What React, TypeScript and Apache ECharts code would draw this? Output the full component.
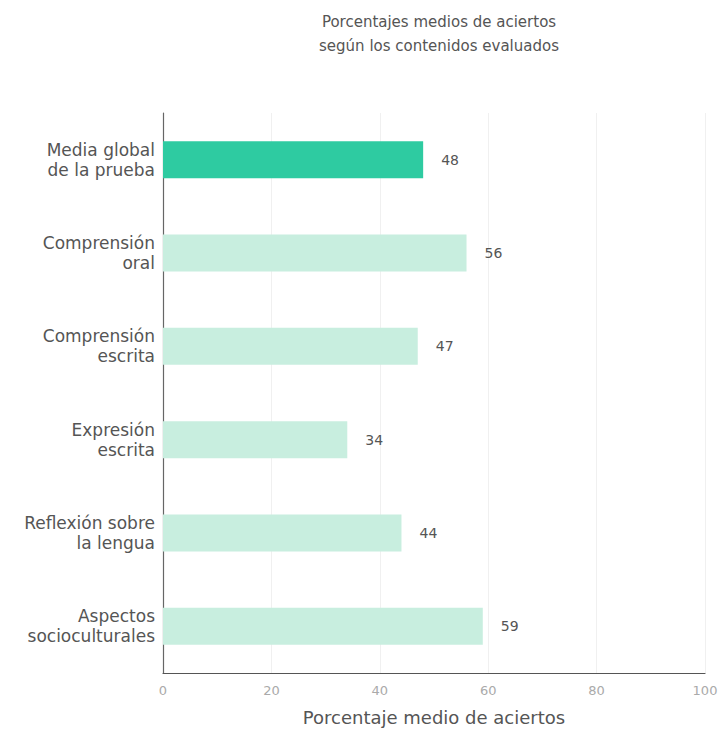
import React, { useEffect, useRef } from "react";
import * as echarts from "echarts";

const categories = [
  "Media global\nde la prueba",
  "Comprensión\noral",
  "Comprensión\nescrita",
  "Expresión\nescrita",
  "Reflexión sobre\nla lengua",
  "Aspectos\nsocioculturales",
];
const values = [48, 56, 47, 34, 44, 59];
const highlightIndex = 0;
const titleText = "Porcentajes medios de aciertos\nsegún los contenidos evaluados";
const xAxisName = "Porcentaje medio de aciertos";

export default function App() {
  const ref = useRef<HTMLDivElement>(null);
  useEffect(() => {
    if (!ref.current) return;
    const chart = echarts.init(ref.current, null, { renderer: "svg" });
    const font = "'DejaVu Sans', sans-serif";
    chart.setOption({
      animation: false,
      backgroundColor: "#ffffff",
      textStyle: { fontFamily: font },
      title: {
        text: titleText,
        left: 434,
        top: 5,
        textAlign: "center",
        textStyle: {
          fontSize: 15,
          fontWeight: "normal",
          color: "#555",
          lineHeight: 24,
          fontFamily: font,
        },
      },
      grid: { left: 163, right: 19, top: 113, bottom: 53, containLabel: false },
      xAxis: {
        type: "value",
        min: 0,
        max: 100,
        interval: 20,
        name: xAxisName,
        nameLocation: "middle",
        nameGap: 35,
        nameTextStyle: { fontSize: 18, color: "#555", fontFamily: font },
        axisLine: { show: true, lineStyle: { color: "#555", width: 1.2 } },
        axisTick: { show: false },
        axisLabel: { color: "#aaa", fontSize: 13, margin: 11, fontFamily: font },
        splitLine: { show: true, lineStyle: { color: "#f0f0f0", width: 1 } },
      },
      yAxis: {
        type: "category",
        data: categories,
        inverse: true,
        axisLine: { show: true, lineStyle: { color: "#666", width: 1.2 } },
        axisTick: { show: false },
        axisLabel: {
          color: "#555",
          fontSize: 17,
          lineHeight: 20,
          margin: 8,
          align: "right",
          fontFamily: font,
        },
      },
      series: [
        {
          type: "bar",
          data: values.map((v, i) => ({
            value: v,
            itemStyle: { color: i === highlightIndex ? "#2ecba1" : "#c8eedf" },
          })),
          barWidth: 37,
          label: {
            show: true,
            position: "right",
            distance: 18,
            color: "#555",
            fontSize: 14,
            fontFamily: font,
          },
        },
      ],
    });
    return () => chart.dispose();
  }, []);
  return <div ref={ref} style={{ width: 724, height: 731, position: "absolute", left: 0, top: 0 }} />;
}
